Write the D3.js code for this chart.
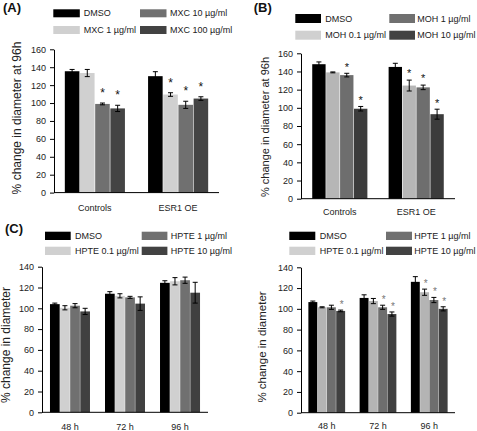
<!DOCTYPE html>
<html><head><meta charset="utf-8">
<script src="https://cdn.jsdelivr.net/npm/d3@7"></script>
<style>body{margin:0;background:#fff}svg{display:block;font-family:"Liberation Sans",Arial,sans-serif}</style>
</head><body><svg id="c" width="477" height="431"></svg>
<script>
// ---- data ----
const seriesA = ["DMSO", "MXC 1 µg/ml", "MXC 10 µg/ml", "MXC 100 µg/ml"];
const categoriesA = ["Controls", "ESR1 OE"];
const valuesA = [[135.5, 133.5, 99, 94], [130, 109.5, 98, 105]];
const errorsA = [[2, 4, 1, 3.5], [5, 2, 4, 2]];
const starsA = [[0, 0, 1, 1], [0, 1, 1, 1]];

const seriesB = ["DMSO", "MOH 0.1 µg/ml", "MOH 1 µg/ml", "MOH 10 µg/ml"];
const categoriesB = ["Controls", "ESR1 OE"];
const valuesB = [[148, 139, 136, 99], [145, 124.5, 122.5, 93]];
const errorsB = [[2.5, 0.5, 2, 2.5], [4, 6, 2.5, 5.5]];
const starsB = [[0, 0, 1, 1], [0, 1, 1, 1]];

const seriesC = ["DMSO", "HPTE 0.1 µg/ml", "HPTE 1 µg/ml", "HPTE 10 µg/ml"];
const categoriesC = ["48 h", "72 h", "96 h"];
const valuesC1 = [[104, 100.5, 102.5, 97], [114, 112, 110.5, 104.5], [124.5, 126, 127, 115]];
const errorsC1 = [[1, 2, 2, 3], [2, 2, 1, 6.5], [2, 3.5, 3, 10]];
const starsC1 = [[0, 0, 0, 0], [0, 0, 0, 0], [0, 0, 0, 0]];
const valuesC2 = [[106.5, 101.5, 101.5, 98], [110.5, 107.5, 101.5, 95], [126, 116, 108.5, 100]];
const errorsC2 = [[1, 0.5, 2, 0.8], [3, 2.5, 2, 2], [5, 3, 2.5, 2]];
const starsC2 = [[0, 0, 0, 1], [0, 0, 1, 1], [0, 1, 1, 1]];

const ticksAB = [0, 20, 40, 60, 80, 100, 120, 140, 160];
const ticksC = [0, 20, 40, 60, 80, 100, 120, 140];

const yLabel96 = "% change in diameter at 96h";
const yLabelC = "% change in diameter";

// ---- drawing ----
const svg = d3.select("#c");
const FONT = '"Liberation Sans", Arial, sans-serif';

function panel(o) {
  const g = svg.append("g");
  const x = d3.scaleBand().domain(o.categories).range([o.x0, o.x1])
    .paddingInner(o.pi).paddingOuter(o.po);
  const xs = d3.scaleBand().domain(d3.range(o.series.length))
    .range([0, x.bandwidth()]).paddingInner(0.04);
  const y = d3.scaleLinear().domain([0, o.ymax]).range([o.y0, o.ytop]);

  // title
  if (o.title) {
    g.append("text").attr("x", o.titleX).attr("y", o.titleY)
      .attr("font-size", 13).attr("font-weight", "bold").attr("fill", "#111")
      .text(o.title);
  }

  // legend (column-major, 2 rows)
  o.series.forEach((s, j) => {
    const col = Math.floor(j / 2), row = j % 2;
    const bx = o.legX[col], by = o.legY[row];
    g.append("rect").attr("x", bx).attr("y", by).attr("width", o.legW).attr("height", o.legH)
      .attr("fill", o.legColors[j]);
    g.append("text").attr("x", bx + o.legW + o.legGap[col]).attr("y", by + o.legH / 2)
      .attr("dy", "0.35em").attr("font-size", 9).attr("fill", "#222").text(s);
  });

  // bars
  o.categories.forEach((c, i) => {
    o.series.forEach((s, j) => {
      const v = o.values[i][j];
      const bx = x(c) + xs(j);
      g.append("rect").attr("x", bx).attr("y", y(v))
        .attr("width", xs.bandwidth()).attr("height", y(0) - y(v))
        .attr("fill", o.colors[j]);
    });
  });

  // error bars and stars
  o.categories.forEach((c, i) => {
    o.series.forEach((s, j) => {
      const v = o.values[i][j], e = o.errors[i][j];
      const cx = x(c) + xs(j) + xs.bandwidth() / 2;
      const cw = 2.5;
      const eg = g.append("g").attr("stroke", "#000").attr("stroke-width", 1);
      eg.append("line").attr("x1", cx).attr("x2", cx).attr("y1", y(v - e)).attr("y2", y(v + e));
      eg.append("line").attr("x1", cx - cw).attr("x2", cx + cw).attr("y1", y(v + e)).attr("y2", y(v + e));
      eg.append("line").attr("x1", cx - cw).attr("x2", cx + cw).attr("y1", y(v - e)).attr("y2", y(v - e));
      if (o.stars[i][j]) {
        const sc = y(v + e) - o.starOff;
        g.append("text").attr("x", cx + (o.starDx || 0)).attr("y", sc + 0.58 * o.starSize)
          .attr("text-anchor", "middle").attr("font-size", o.starSize)
          .attr("fill", o.starColor).text("*");
      }
    });
  });

  // y axis
  const ya = g.append("g").attr("transform", `translate(${o.x0},0)`)
    .call(d3.axisLeft(y).tickValues(o.ticks).tickSize(4).tickSizeOuter(0).tickPadding(4));
  ya.attr("font-family", FONT).attr("font-size", 9);
  ya.selectAll("text").attr("fill", "#222");
  ya.selectAll("line,path").attr("stroke", "#000");

  // x axis line
  g.append("line").attr("x1", o.x0).attr("x2", o.x1).attr("y1", y(0)).attr("y2", y(0))
    .attr("stroke", "#000");
  o.categories.forEach(c => {
    g.append("text").attr("x", x(c) + x.bandwidth() / 2).attr("y", y(0) + o.catDy)
      .attr("text-anchor", "middle").attr("font-size", 9).attr("fill", "#222").text(c);
  });

  // y label
  g.append("text").attr("transform", `translate(${o.ylabX},${o.ylabY}) rotate(-90)`)
    .attr("text-anchor", "middle").attr("dy", "0.35em")
    .attr("font-size", o.ylabSize).attr("fill", "#222").text(o.ylab);
}

const C_LEG = ["#000000", "#d0d0d0", "#707070", "#424242"];

panel({
  title: "(A)", titleX: 3, titleY: 12,
  series: seriesA, categories: categoriesA, values: valuesA, errors: errorsA, stars: starsA,
  x0: 54, x1: 219, pi: 0.278, po: 0.13, y0: 192.6, ytop: 49.3, ymax: 160, ticks: ticksAB,
  colors: ["#000000", "#d0d0d0", "#707070", "#444444"], legColors: C_LEG,
  legX: [53.3, 140], legY: [9.3, 26], legW: 26.5, legH: 8, legGap: [4, 3.5],
  starOff: 13, starSize: 12, starColor: "#111",
  catDy: 18.5, ylab: yLabel96, ylabX: 16.7, ylabY: 118, ylabSize: 12
});

panel({
  title: "(B)", titleX: 253.7, titleY: 12,
  series: seriesB, categories: categoriesB, values: valuesB, errors: errorsB, stars: starsB,
  x0: 301, x1: 455, pi: 0.278, po: 0.147, y0: 198.7, ytop: 53.3, ymax: 160, ticks: ticksAB,
  colors: ["#000000", "#b6b6b6", "#6e6e6e", "#3c3c3c"], legColors: C_LEG,
  legX: [295.3, 389.3], legY: [14, 30.7], legW: 25.7, legH: 9, legGap: [4.3, 2.3],
  starOff: 9, starSize: 11, starColor: "#111",
  catDy: 16.5, ylab: yLabel96, ylabX: 265, ylabY: 127, ylabSize: 11
});

panel({
  title: "(C)", titleX: 5, titleY: 233,
  series: seriesC, categories: categoriesC, values: valuesC1, errors: errorsC1, stars: starsC1,
  x0: 42, x1: 208, pi: 0.273, po: 0.145, y0: 412.3, ytop: 266.7, ymax: 140, ticks: ticksC,
  colors: ["#000000", "#d0d0d0", "#707070", "#404040"], legColors: C_LEG,
  legX: [45, 141.7], legY: [231.7, 246.7], legW: 25.7, legH: 8.3, legGap: [4.3, 3.4],
  starOff: 9, starSize: 10, starColor: "#777",
  catDy: 17.5, ylab: yLabelC, ylabX: 6, ylabY: 345, ylabSize: 12
});

panel({
  title: null,
  series: seriesC, categories: categoriesC, values: valuesC2, errors: errorsC2, stars: starsC2,
  x0: 301, x1: 455, pi: 0.283, po: 0.144, y0: 412.7, ytop: 267.3, ymax: 140, ticks: ticksC,
  colors: ["#000000", "#b4b4b4", "#6e6e6e", "#404040"], legColors: C_LEG,
  legX: [289.3, 386], legY: [231.7, 246.7], legW: 26, legH: 8.3, legGap: [4.4, 2.3],
  starOff: 8, starSize: 10, starColor: "#777", starDx: 1,
  catDy: 16.6, ylab: yLabelC, ylabX: 262, ylabY: 347, ylabSize: 11.5
});
</script></body></html>
